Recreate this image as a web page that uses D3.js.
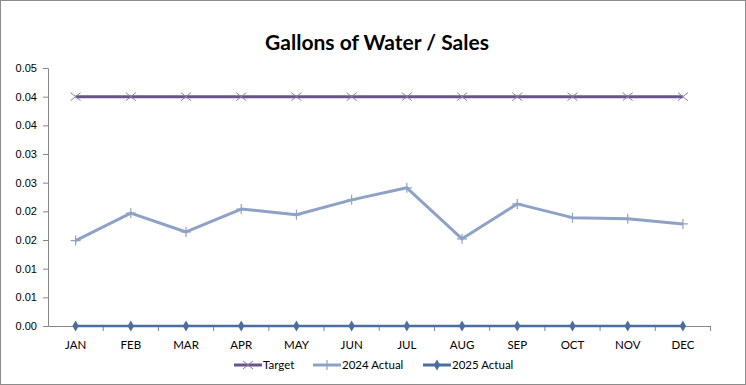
<!DOCTYPE html>
<html lang="en">
	<head>
		<meta charset="utf-8">
		<title>Gallons of Water / Sales</title>
		<script src="https://d3js.org/d3.v7.min.js"></script>
		<style>
			body{ margin:0; background:#fff; }
		</style>
	</head>
	<body>
		<script>
			var w = 746;
			var h = 385;

			//data
			var months = ["JAN","FEB","MAR","APR","MAY","JUN","JUL","AUG","SEP","OCT","NOV","DEC"];
			var target = [0.04,0.04,0.04,0.04,0.04,0.04,0.04,0.04,0.04,0.04,0.04,0.04];
			var actual2024 = [0.0149,0.0197,0.0164,0.0204,0.0194,0.0220,0.0241,0.0152,0.0213,0.0189,0.0187,0.0178];
			var actual2025 = [0,0,0,0,0,0,0,0,0,0,0,0];
			var yTicks = [0,0.005,0.01,0.015,0.02,0.025,0.03,0.035,0.04,0.045];

			var colTarget = "#66548a";
			var col2024 = "#8ea2c6";
			var col2025 = "#4a6f9f";
			var humanist = "Lato, 'Open Sans', sans-serif";
			var plain = "'Liberation Sans', Arial, sans-serif";

			var svg = d3.select("body").append("svg")
				.attr("width", w).attr("height", h);

			//outer border
			svg.append("rect")
				.attr("x", 0.5).attr("y", 0.5)
				.attr("width", w - 1).attr("height", h - 1)
				.attr("fill", "#fff").attr("stroke", "#8c8c8c");

			//scales
			var xScale = d3.scaleBand().domain(months).range([48, 710.5]);
			var yScale = d3.scaleLinear().domain([0, 0.045]).range([326, 68]);
			var cx = function(d, i){ return xScale(months[i]) + xScale.bandwidth() / 2; };

			//title
			svg.append("text")
				.attr("x", 377).attr("y", 50)
				.attr("text-anchor", "middle")
				.style("font-family", humanist)
				.style("font-size", "21px").style("font-weight", "bold")
				.attr("fill", "#000")
				.text("Gallons of Water / Sales");

			//Y axis
			var yAxis = d3.axisLeft(yScale)
				.tickValues(yTicks)
				.tickSize(5)
				.tickFormat(function(d){ return (Math.round(d * 100 + 1e-9) / 100).toFixed(2); });
			var gy = svg.append("g")
				.attr("transform", "translate(48,0)")
				.call(yAxis);
			gy.select(".domain").attr("stroke", "#868686");
			gy.selectAll(".tick line").attr("stroke", "#868686");
			gy.selectAll(".tick text").attr("fill", "#000").attr("x", -11)
				.style("font-size", "11px").style("font-family", plain);

			//X axis
			var xAxis = d3.axisBottom(xScale).tickSize(0).tickSizeOuter(0);
			var gx = svg.append("g")
				.attr("transform", "translate(0,326)")
				.call(xAxis);
			gx.select(".domain").attr("stroke", "#868686");
			gx.selectAll(".tick text").attr("fill", "#000").attr("dy", "1.75em")
				.style("font-size", "11.5px").style("font-family", humanist);
			//tick marks between categories
			gx.selectAll("line.sep")
				.data(months)
				.enter().append("line")
				.attr("class", "sep")
				.attr("x1", function(d){ return xScale(d) + xScale.bandwidth(); })
				.attr("x2", function(d){ return xScale(d) + xScale.bandwidth(); })
				.attr("y1", 0).attr("y2", 5)
				.attr("stroke", "#868686");

			var line = d3.line()
				.x(cx)
				.y(function(d){ return yScale(d); });

			//2024 actual
			svg.append("path").datum(actual2024)
				.attr("d", line).attr("fill", "none")
				.attr("stroke", col2024).attr("stroke-width", 3).attr("stroke-linejoin", "round");
			svg.selectAll("path.plus")
				.data(actual2024).enter().append("path")
				.attr("class", "plus")
				.attr("d", function(d, i){
					var x = cx(d, i), y = yScale(d);
					return "M" + (x - 5) + "," + y + "H" + (x + 5) + "M" + x + "," + (y - 5) + "V" + (y + 5);
				})
				.attr("stroke", col2024).attr("stroke-width", 1.2);

			//target
			svg.append("path").datum(target)
				.attr("d", line).attr("fill", "none")
				.attr("stroke", colTarget).attr("stroke-width", 3);
			svg.selectAll("path.cross")
				.data(target).enter().append("path")
				.attr("class", "cross")
				.attr("d", function(d, i){
					var x = cx(d, i), y = yScale(d);
					return "M" + (x - 5) + "," + (y - 4) + "L" + (x + 5) + "," + (y + 4) + "M" + (x - 5) + "," + (y + 4) + "L" + (x + 5) + "," + (y - 4);
				})
				.attr("stroke", "#8a7aa6").attr("stroke-width", 1);

			//2025 actual
			svg.append("path").datum(actual2025)
				.attr("d", line).attr("fill", "none")
				.attr("stroke", col2025).attr("stroke-width", 2.5);
			svg.selectAll("path.diam")
				.data(actual2025).enter().append("path")
				.attr("class", "diam")
				.attr("d", d3.symbol().type(d3.symbolDiamond).size(36))
				.attr("transform", function(d, i){ return "translate(" + cx(d, i) + "," + yScale(d) + ")"; })
				.attr("fill", col2025);

			//legend
			var legend = [
				{name: "Target", col: colTarget, x: 234},
				{name: "2024 Actual", col: col2024, x: 313},
				{name: "2025 Actual", col: col2025, x: 423}
			];
			var ly = 365;
			var lg = svg.selectAll("g.leg").data(legend).enter().append("g").attr("class", "leg");
			lg.append("line")
				.attr("x1", function(d){ return d.x; })
				.attr("x2", function(d){ return d.x + 28; })
				.attr("y1", ly).attr("y2", ly)
				.attr("stroke", function(d){ return d.col; }).attr("stroke-width", 3);
			lg.append("text")
				.attr("x", function(d){ return d.x + 29; })
				.attr("y", ly + 4)
				.attr("fill", "#000")
				.style("font-size", "11.5px").style("font-family", humanist)
				.text(function(d){ return d.name; });
			//legend markers
			var m0 = legend[0].x + 14;
			svg.append("path")
				.attr("d", "M" + (m0 - 5) + "," + (ly - 4) + "L" + (m0 + 5) + "," + (ly + 4) + "M" + (m0 - 5) + "," + (ly + 4) + "L" + (m0 + 5) + "," + (ly - 4))
				.attr("stroke", "#8a7aa6").attr("stroke-width", 1);
			var m1 = legend[1].x + 14;
			svg.append("path")
				.attr("d", "M" + m1 + "," + (ly - 5) + "V" + (ly + 5))
				.attr("stroke", col2024).attr("stroke-width", 1.2);
			var m2 = legend[2].x + 14;
			svg.append("path")
				.attr("d", d3.symbol().type(d3.symbolDiamond).size(36))
				.attr("transform", "translate(" + m2 + "," + ly + ")")
				.attr("fill", col2025);
		</script>
	</body>
</html>
